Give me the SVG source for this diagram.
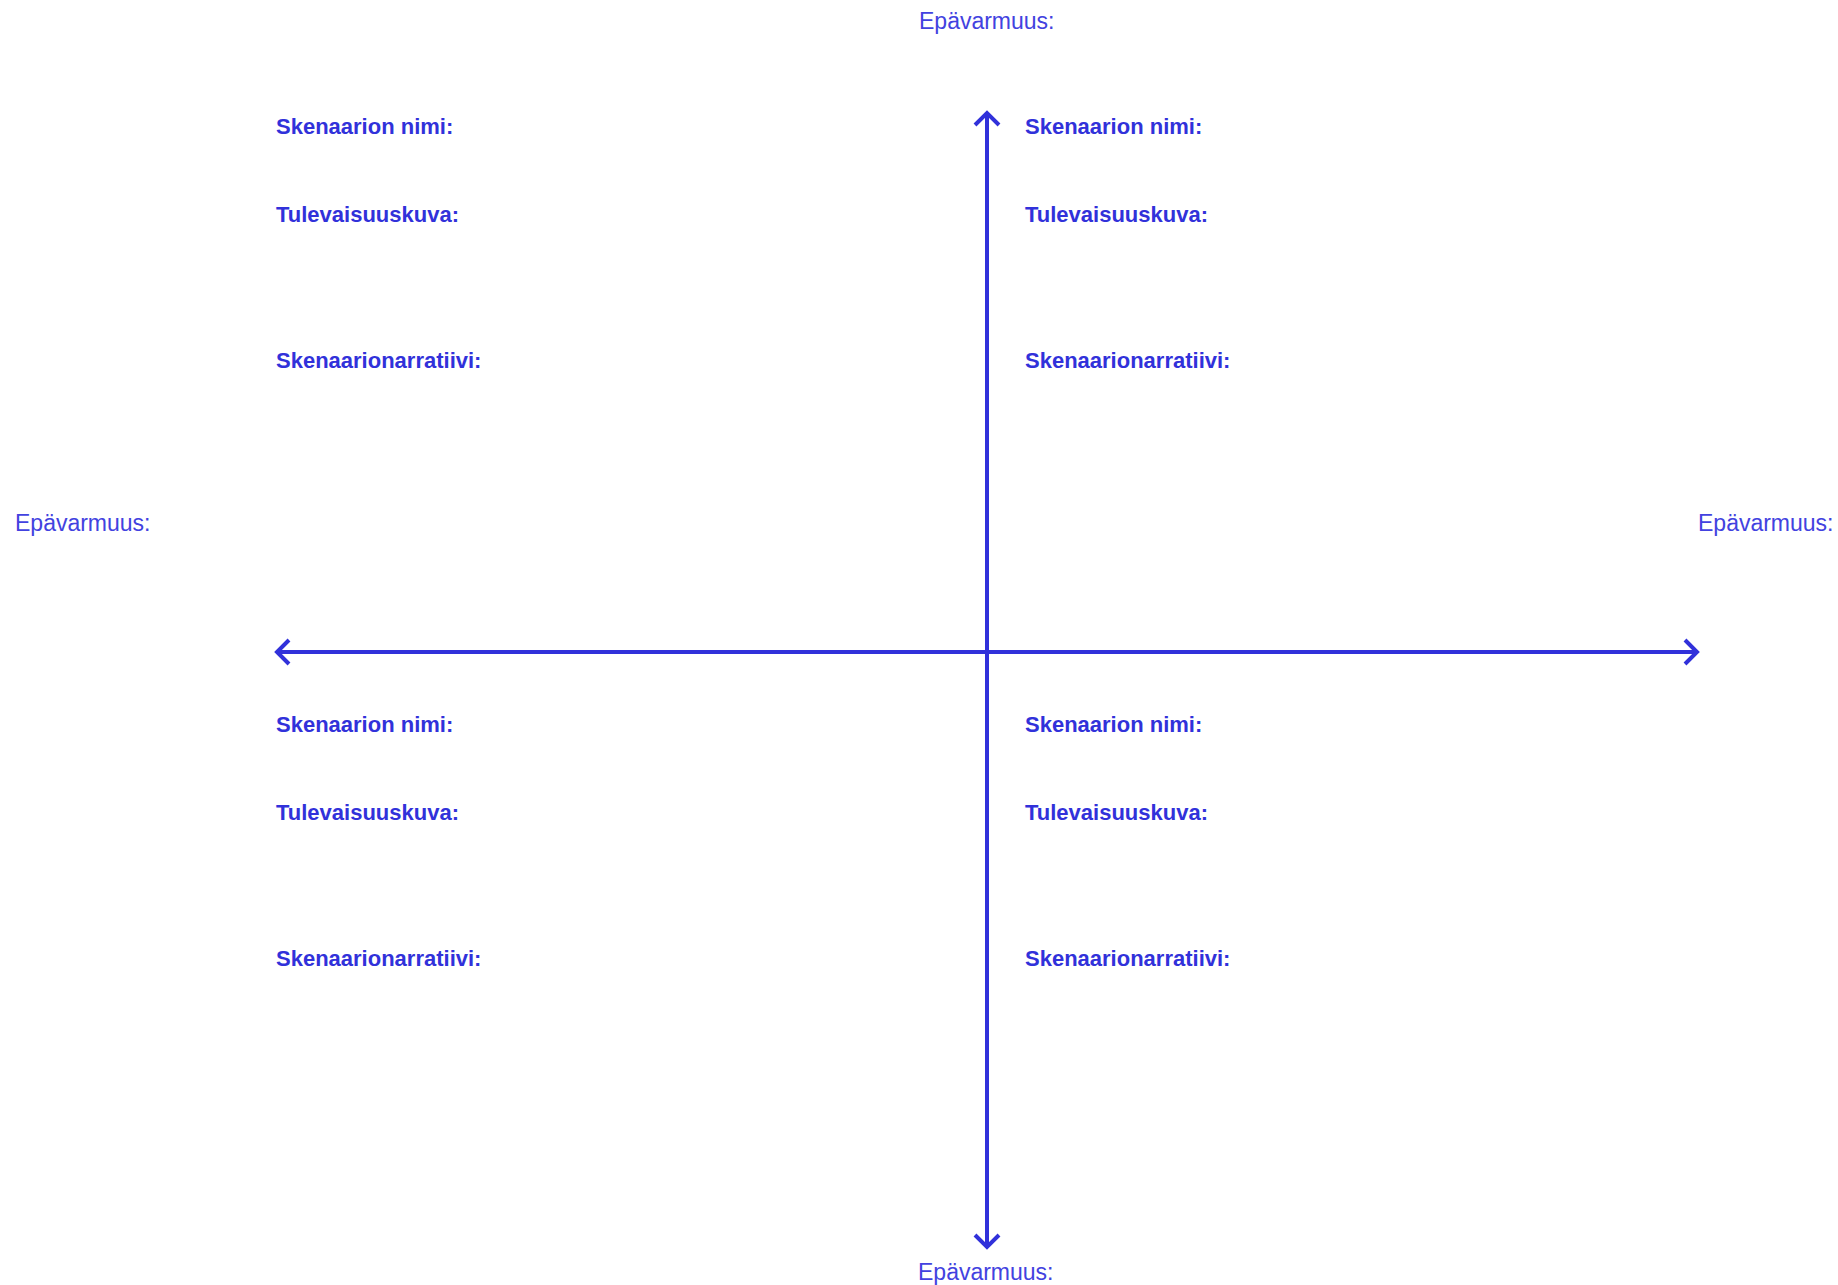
<svg xmlns="http://www.w3.org/2000/svg" width="1838" height="1285" viewBox="0 0 1838 1285">
<style>
.ax{stroke:#3131da;stroke-width:4;fill:none}
.hd{stroke:#3131da;stroke-width:4;fill:none;stroke-linejoin:miter}
.lbl{font-family:"Liberation Sans",Arial,sans-serif;font-size:23px;fill:#4242e0}
.b{font-family:"Liberation Sans",Arial,sans-serif;font-size:22px;font-weight:bold;fill:#3131da}
</style>
<rect width="1838" height="1285" fill="#ffffff"/>
<g id="connectors">
<line class="ax" x1="987" y1="114" x2="987" y2="1246"/>
<line class="ax" x1="279" y1="652" x2="1695" y2="652"/>
<polyline class="hd" points="975,125 987,113 999,125"/>
<polyline class="hd" points="975,1235 987,1247 999,1235"/>
<polyline class="hd" points="289,640 277,652 289,664"/>
<polyline class="hd" points="1685,640 1697,652 1685,664"/>
</g>
<g id="label-top"><text class="lbl" x="919" y="29">Epävarmuus:</text></g>
<g id="label-bottom"><text class="lbl" x="918" y="1280">Epävarmuus:</text></g>
<g id="label-left"><text class="lbl" x="15" y="531">Epävarmuus:</text></g>
<g id="label-right"><text class="lbl" x="1698" y="531">Epävarmuus:</text></g>
<g id="quadrant-top-left">
<text class="b" x="276" y="134">Skenaarion nimi:</text>
<text class="b" x="276" y="222">Tulevaisuuskuva:</text>
<text class="b" x="276" y="368">Skenaarionarratiivi:</text>
</g>
<g id="quadrant-top-right">
<text class="b" x="1025" y="134">Skenaarion nimi:</text>
<text class="b" x="1025" y="222">Tulevaisuuskuva:</text>
<text class="b" x="1025" y="368">Skenaarionarratiivi:</text>
</g>
<g id="quadrant-bottom-left">
<text class="b" x="276" y="732">Skenaarion nimi:</text>
<text class="b" x="276" y="820">Tulevaisuuskuva:</text>
<text class="b" x="276" y="966">Skenaarionarratiivi:</text>
</g>
<g id="quadrant-bottom-right">
<text class="b" x="1025" y="732">Skenaarion nimi:</text>
<text class="b" x="1025" y="820">Tulevaisuuskuva:</text>
<text class="b" x="1025" y="966">Skenaarionarratiivi:</text>
</g>
</svg>
